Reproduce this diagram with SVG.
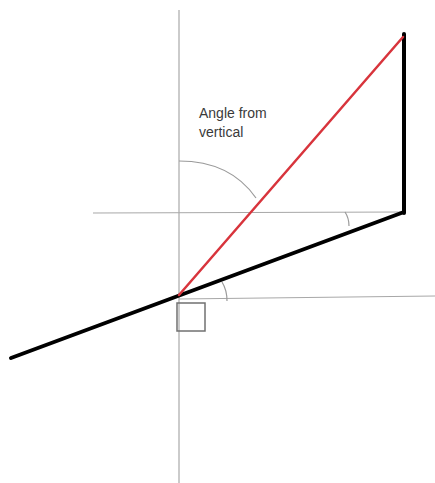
<svg xmlns="http://www.w3.org/2000/svg" width="435" height="483" viewBox="0 0 435 483">
<style>
.axis{stroke:#a8a8a8;stroke-width:1.2;fill:none}
.arc{stroke:#9a9a9a;stroke-width:1.2;fill:none}
.thick{stroke:#000;stroke-width:4;fill:none;stroke-linecap:round}
.red{stroke:#d8343c;stroke-width:2.5;fill:none;stroke-linecap:round}
.lbl{font-family:"Liberation Sans",Arial,sans-serif;font-size:14px;fill:#3a3a3a}
</style>
<rect width="435" height="483" fill="#fff"/>
<g id="axes">
<line class="axis" x1="179" y1="10" x2="179" y2="483"/>
<line class="axis" x1="93" y1="213" x2="404" y2="212"/>
<line class="axis" x1="179" y1="299" x2="435" y2="296"/>
</g>
<g id="arcs">
<path class="arc" d="M179,161 C215,161 240,175 256,198"/>
<path class="arc" d="M222,282 Q227,290 227,301"/>
<path class="arc" d="M345,212 Q349,218 349,226"/>
</g>
<g id="square">
<rect x="177" y="303" width="28" height="28" fill="none" stroke="#707070" stroke-width="1.5"/>
</g>
<g id="connectors">
<line class="thick" x1="11" y1="358" x2="404" y2="212"/>
<line class="thick" x1="404" y1="34" x2="404" y2="213"/>
<line class="red" x1="179" y1="295" x2="403" y2="37"/>
</g>
<g id="label">
<text class="lbl" x="199" y="118">Angle from</text>
<text class="lbl" x="199" y="137">vertical</text>
</g>
</svg>
